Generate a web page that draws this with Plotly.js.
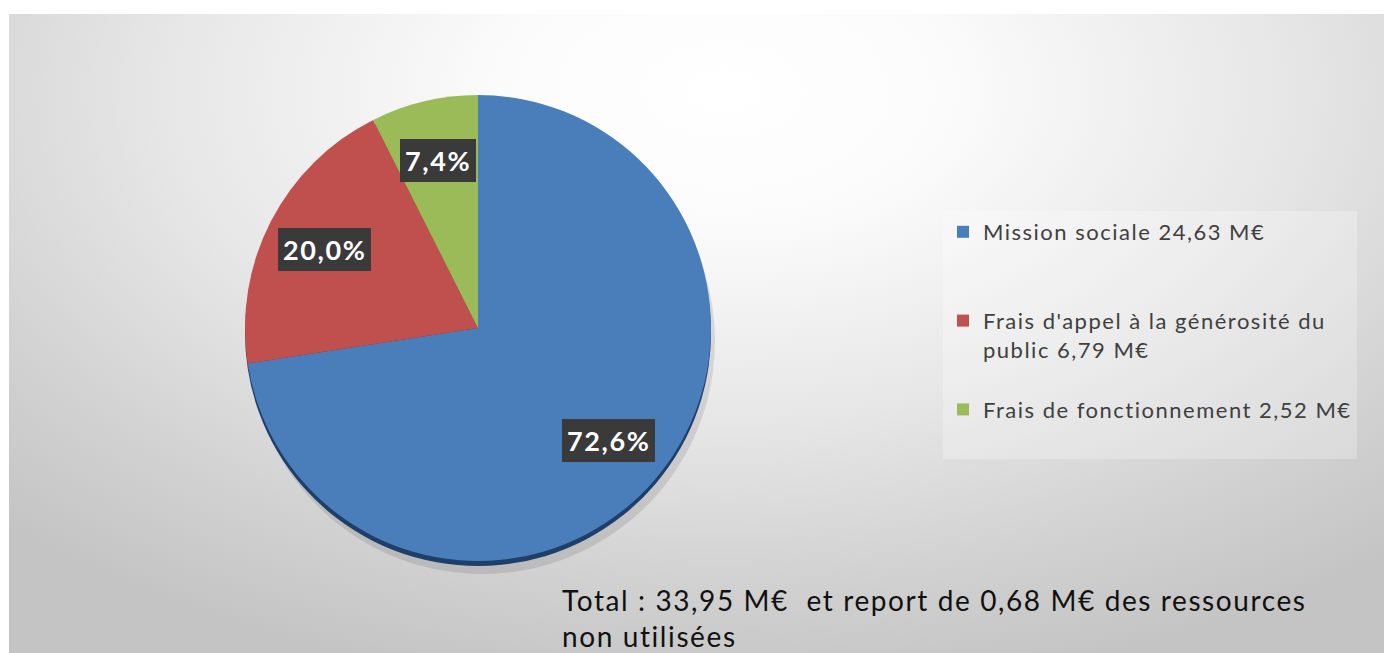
<!DOCTYPE html>
<html>
<head>
<meta charset="utf-8">
<script src="https://cdn.plot.ly/plotly-3.0.1.min.js"></script>
<style>
html,body{margin:0;padding:0;background:#ffffff;}
#wrap{position:absolute;left:0;top:0;width:1384px;height:653px;background:#ffffff;}
#bg{position:absolute;left:9px;top:14px;width:1375px;height:639px;
background:radial-gradient(ellipse 75% 95% at 52% 12%, #ffffff 0%, #fbfbfb 22%, #e6e6e6 55%, #d2d2d2 80%, #c4c4c4 100%);}
#chart{position:absolute;left:0;top:0;width:1384px;height:653px;}
.legendtext{letter-spacing:1.5px;}
.annotation-text{letter-spacing:1.6px;}
</style>
</head>
<body>
<div id="wrap"><div id="bg"></div><div id="chart"></div></div>
<script>
const categories = [
  "Mission sociale 24,63 M€",
  "Frais d'appel à la générosité du public 6,79 M€",
  "Frais de fonctionnement 2,52 M€"
];
const legendLabels = [
  "Mission sociale 24,63 M€<br> <br> ",
  "Frais d'appel à la générosité du<br>public 6,79 M€<br> ",
  "Frais de fonctionnement 2,52 M€<br> "
];
const values = [24.63, 6.79, 2.52];
const percentLabels = ["72,6%", "20,0%", "7,4%"];
const sliceColors = ["#4a7ebb", "#c0504d", "#9bbb59"];
const rimColors = ["#1f3f6b", "#7a2f2d", "#5f7a33"];
const totalText = "Total : 33,95 M€\u00a0 et report de 0,68 M€ des ressources<br>non utilisées";

const W = 1384, H = 653;
const cx = 478, cy = 328, R = 233;
const dom = {x: [(cx - R) / W, (cx + R) / W], y: [(H - cy - R) / H, (H - cy + R) / H]};
const shift = 5 / H;

const shadow = {
  type: 'pie', values: values, sort: false, direction: 'clockwise', rotation: 0,
  marker: {colors: ['rgba(0,0,0,0.10)','rgba(0,0,0,0.10)','rgba(0,0,0,0.10)'], line: {width: 0}},
  textinfo: 'none', hoverinfo: 'skip', showlegend: false,
  domain: {x: [dom.x[0] + 4 / W, dom.x[1] + 4 / W], y: [dom.y[0] - 13 / H, dom.y[1] - 13 / H]}
};
const rim = {
  type: 'pie', values: values, sort: false, direction: 'clockwise', rotation: 0,
  marker: {colors: rimColors, line: {width: 0}},
  textinfo: 'none', hoverinfo: 'skip', showlegend: false,
  domain: {x: dom.x, y: [dom.y[0] - shift, dom.y[1] - shift]}
};
const main = {
  type: 'pie', values: values, labels: legendLabels, sort: false,
  direction: 'clockwise', rotation: 0,
  marker: {colors: sliceColors, line: {width: 0}},
  textinfo: 'none', hoverinfo: 'label+percent',
  domain: dom
};

// percentage boxes placed along each slice's mid-angle
const total = values.reduce((a, b) => a + b, 0);
const annotations = [];
let cum = 0;
const factor = 0.74;
values.forEach((v, i) => {
  const mid = (cum + v / 2) / total * 2 * Math.PI;
  cum += v;
  const px = cx + Math.sin(mid) * R * factor;
  const py = cy - Math.cos(mid) * R * factor;
  annotations.push({
    xref: 'paper', yref: 'paper', x: px / W, y: (H - py) / H,
    xanchor: 'center', yanchor: 'middle',
    text: '<b>' + percentLabels[i] + '</b>', showarrow: false,
    font: {family: 'Lato, sans-serif', size: 27, color: '#ffffff'},
    bgcolor: '#3a3a3a', borderpad: 5, borderwidth: 0
  });
});
annotations.push({
  xref: 'paper', yref: 'paper', x: 560 / W, y: (H - 581) / H,
  xanchor: 'left', yanchor: 'top', align: 'left', showarrow: false,
  text: totalText,
  font: {family: 'Lato, sans-serif', size: 28, color: '#111111'}
});

const layout = {
  width: W, height: H,
  margin: {l: 0, r: 0, t: 0, b: 0},
  paper_bgcolor: 'rgba(0,0,0,0)', plot_bgcolor: 'rgba(0,0,0,0)',
  showlegend: true,
  legend: {
    x: 943 / W, y: (H - 211) / H, xanchor: 'left', yanchor: 'top',
    bgcolor: 'rgba(255,255,255,0.25)', borderwidth: 0,
    valign: 'top',
    font: {family: 'Lato, sans-serif', size: 22, color: '#404040'}
  },
  annotations: annotations
};

Plotly.newPlot('chart', [shadow, rim, main], layout, {displayModeBar: false, staticPlot: true});
</script>
</body>
</html>
